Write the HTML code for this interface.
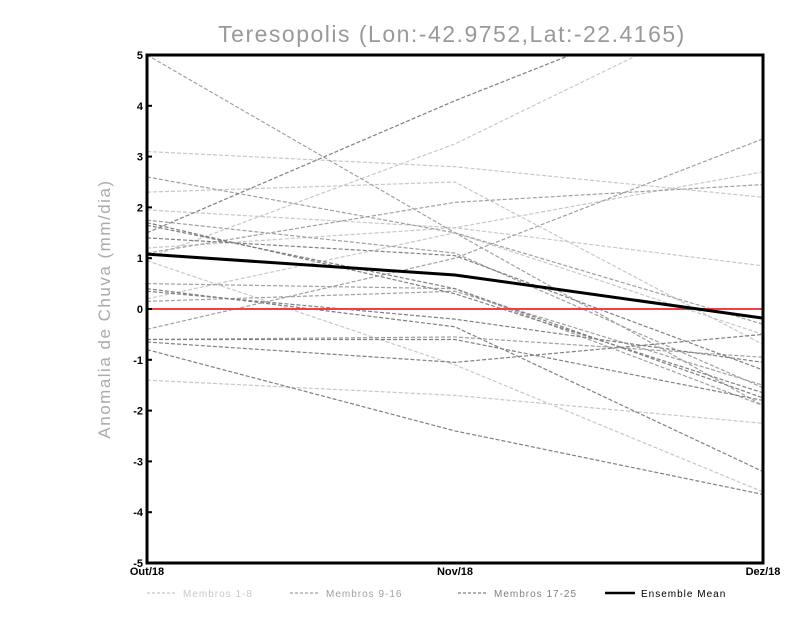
<!DOCTYPE html>
<html><head><meta charset="utf-8"><style>
body{margin:0;background:#fff;}
svg{display:block;font-family:"Liberation Sans",sans-serif;}
</style></head><body>
<svg id="chart" width="800" height="618">
<defs><clipPath id="clip"><rect x="147" y="55" width="616" height="508"/></clipPath></defs>
<text x="452" y="42" text-anchor="middle" font-size="23" fill="#999" letter-spacing="1.5">Teresopolis (Lon:-42.9752,Lat:-22.4165)</text>
<text transform="translate(110,309) rotate(-90)" text-anchor="middle" font-size="17" fill="#aaa" letter-spacing="1.5">Anomalia de Chuva (mm/dia)</text>
<g id="series" clip-path="url(#clip)"></g>
<g id="axes"></g>
<g id="legend"></g>
</svg>
<script>
const categories = ["Out/18","Nov/18","Dez/18"];
const yTicks = [-5,-4,-3,-2,-1,0,1,2,3,4,5];
const groupLight = [[3.1,2.8,2.2],[1.0,3.25,6.2],[1.95,1.6,2.7],[2.3,2.5,-0.7],[1.2,1.6,0.85],[-1.4,-1.7,-2.25],[0.95,-1.1,-3.6],[0.2,1.5,-0.5]];
const groupMedium = [[5.0,1.5,-1.9],[2.6,1.5,-0.3],[1.75,1.1,-1.55],[0.5,0.4,-1.9],[-0.4,1.0,3.35],[0.15,0.35,-1.5],[-0.6,-0.55,-0.95],[1.1,2.1,2.45]];
const groupDark = [[1.5,4.1,6.5],[-0.8,-2.4,-3.65],[1.7,0.3,-1.65],[1.4,1.05,-1.2],[0.4,-0.35,-3.2],[-0.6,-0.6,-1.8],[-0.65,-1.05,-0.5],[1.65,0.4,-1.75],[0.35,-0.2,-1.05]];
const ensembleMean = [1.08,0.67,-0.18];
const legendLabels = ["Membros 1-8","Membros 9-16","Membros 17-25","Ensemble Mean"];

const NS="http://www.w3.org/2000/svg";
const X0=147,X1=763,Y0=55,Y1=563;
function xs(i){return X0+(X1-X0)*i/(categories.length-1);}
function ys(v){return Y1-(v+5)/10*(Y1-Y0);}
function mk(tag,attrs,parent){const e=document.createElementNS(NS,tag);for(const k in attrs)e.setAttribute(k,attrs[k]);parent.appendChild(e);return e;}
const gS=document.getElementById('series'),gA=document.getElementById('axes'),gL=document.getElementById('legend');
function pts(arr){return arr.map((v,i)=>xs(i)+','+ys(v)).join(' ');}
function drawGroup(g,color,name){g.forEach((m,k)=>{const p=mk('polyline',{points:pts(m),fill:'none',stroke:color,'stroke-width':1.2,'stroke-dasharray':'4,2'},gS);

});}
drawGroup(groupLight,'#c8c8c8','member-light');
drawGroup(groupMedium,'#a0a0a0','member-medium');
drawGroup(groupDark,'#808080','member-dark');
const zl=mk('line',{x1:X0,x2:X1,y1:ys(0),y2:ys(0),stroke:'#f04040','stroke-width':2},gS);


const ml=mk('polyline',{points:pts(ensembleMean),fill:'none',stroke:'#000','stroke-width':3},gS);


const fr=mk('rect',{x:X0,y:Y0,width:X1-X0,height:Y1-Y0,fill:'none',stroke:'#000','stroke-width':3},gA);


yTicks.forEach(t=>{const y=ys(t);
mk('line',{x1:X0,x2:X0+5,y1:y,y2:y,stroke:'#000','stroke-width':2},gA);
const tx=mk('text',{x:X0-4,y:y+4,'text-anchor':'end','font-size':11,'font-weight':'bold'},gA);tx.textContent=t;

});
categories.forEach((c,i)=>{const tx=mk('text',{x:xs(i),y:Y1+12,'text-anchor':'middle','font-size':11,'font-weight':'bold'},gA);tx.textContent=c;

});
const lc=['#c8c8c8','#a0a0a0','#808080','#000'];
const lx=[147,290,458,605];
legendLabels.forEach((l,i)=>{const y=593;
mk('line',{x1:lx[i],x2:lx[i]+30,y1:y,y2:y,stroke:lc[i],'stroke-width':i==3?2.5:1.2,'stroke-dasharray':i==3?'':'3,2'},gL);
const tx=mk('text',{x:lx[i]+36,y:y+4,'font-size':10,fill:i==3?'#000':lc[i],'letter-spacing':1},gL);tx.textContent=l;

});
</script>
</body></html>
